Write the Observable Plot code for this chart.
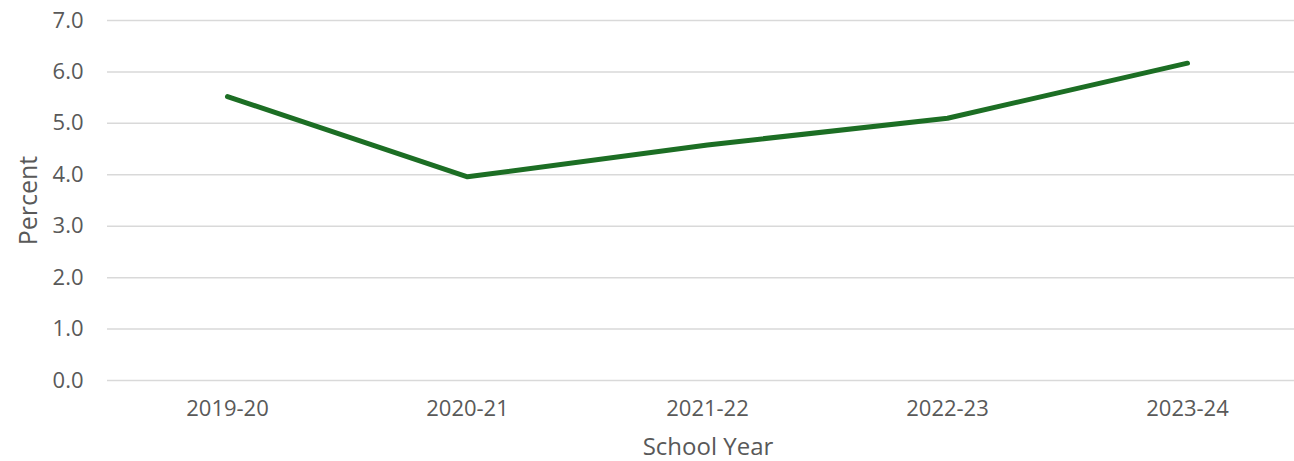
<!DOCTYPE html>
<html>
<head>
<meta charset="utf-8">
<script src="https://cdn.jsdelivr.net/npm/d3@7"></script>
<script src="https://cdn.jsdelivr.net/npm/@observablehq/plot@0.6"></script>
<style>
  html, body { margin: 0; padding: 0; background: #fff; overflow: hidden; }
  #chart svg { display: block; }
</style>
</head>
<body>
<div id="chart"></div>
<script>
const years = ["2019-20", "2020-21", "2021-22", "2022-23", "2023-24"];
const percents = [5.52, 3.96, 4.58, 5.10, 6.17];
const yTicks = [0, 1, 2, 3, 4, 5, 6, 7];
const xTitle = "School Year";
const yTitle = "Percent";

const data = years.map((y, i) => ({year: y, value: percents[i]}));

const textColor = "#595959";
const font = "'Open Sans', 'Liberation Sans', Arial, sans-serif";

const chart = Plot.plot({
  width: 1294,
  height: 461,
  marginLeft: 107,
  marginRight: 0,
  marginTop: 20,
  marginBottom: 81,
  style: {fontFamily: font, fontSize: "22px", color: textColor, background: "#fff"},
  x: {type: "point", domain: years, range: [107, 1307], padding: 0.5},
  y: {domain: [0, 7]},
  marks: [
    Plot.gridY(yTicks, {stroke: "#d9d9d9", strokeOpacity: 1, strokeWidth: 1.5}),
    Plot.axisY(yTicks, {tickSize: 0, tickPadding: 24, tickFormat: d => d.toFixed(1), label: null, fill: textColor}),
    Plot.axisX(years, {tickSize: 0, tickPadding: 20, label: null, fill: textColor}),
    Plot.line(data, {x: "year", y: "value", stroke: "#1c6e24", strokeWidth: 5, strokeLinecap: "round", strokeLinejoin: "round"}),
    Plot.text([xTitle], {frameAnchor: "bottom", textAnchor: "middle", lineAnchor: "middle", dx: 7, dy: 67, fill: textColor, fontSize: 24}),
    Plot.text([yTitle], {frameAnchor: "left", textAnchor: "middle", lineAnchor: "middle", dx: -79, rotate: -90, fill: textColor, fontSize: 25})
  ]
});
document.getElementById("chart").appendChild(chart);
</script>
</body>
</html>
